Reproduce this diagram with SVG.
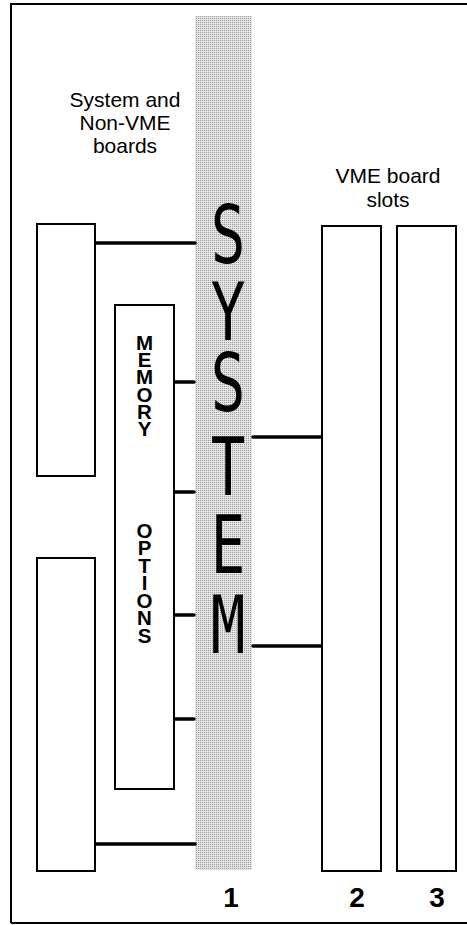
<svg xmlns="http://www.w3.org/2000/svg" width="467" height="925" viewBox="0 0 467 925">
<defs>
<pattern id="dots" width="2" height="2" patternUnits="userSpaceOnUse">
<rect width="2" height="2" fill="#e4e4e4"/>
<rect width="1" height="1" fill="#9a9a9a"/>
</pattern>
<style>
.box{fill:#fff;stroke:#000;stroke-width:2}
.con{stroke:#000;stroke-width:3.5;stroke-linecap:round;fill:none}
.lbl{font-family:"Liberation Sans",Arial,sans-serif;font-size:21px;fill:#000;text-anchor:middle}
.vert{font-family:"Liberation Sans",Arial,sans-serif;font-size:20.5px;font-weight:bold;fill:#000;text-anchor:middle}
.num{font-family:"Liberation Sans",Arial,sans-serif;font-size:28px;font-weight:bold;fill:#000;text-anchor:middle}
.sys{font-family:"DejaVu Sans Mono","Liberation Mono",monospace;font-size:80px;fill:#000;text-anchor:middle}
</style>
</defs>
<rect x="0" y="0" width="467" height="925" fill="#fff"/>
<g id="frame">
<path d="M11,923 L11,4 L470,4 M11,923 L470,923" fill="none" stroke="#000" stroke-width="2"/>
</g>
<g id="system-bus">
<rect x="195" y="16" width="57" height="854" fill="url(#dots)"/>
<g transform="translate(228,0) scale(0.72,1)">
<text class="sys" x="0" y="263">S</text>
<text class="sys" x="0" y="340">Y</text>
<text class="sys" x="0" y="411">S</text>
<text class="sys" x="0" y="495">T</text>
<text class="sys" x="0" y="573">E</text>
<text class="sys" x="0" y="653">M</text>
</g>
</g>
<g id="label-system">
<text class="lbl" x="125" y="107">System and</text>
<text class="lbl" x="125" y="130">Non-VME</text>
<text class="lbl" x="125" y="153">boards</text>
</g>
<g id="label-vme">
<text class="lbl" x="388" y="183">VME board</text>
<text class="lbl" x="388" y="207">slots</text>
</g>
<g id="board-upper">
<rect class="box" x="37" y="224" width="58" height="252"/>
</g>
<g id="board-lower">
<rect class="box" x="37" y="558" width="58" height="313"/>
</g>
<g id="memory-options">
<rect class="box" x="115" y="305" width="59" height="484"/>
<text class="vert" x="144.5" y="350">M</text>
<text class="vert" x="144.5" y="367.2">E</text>
<text class="vert" x="144.5" y="384.4">M</text>
<text class="vert" x="144.5" y="401.6">O</text>
<text class="vert" x="144.5" y="418.8">R</text>
<text class="vert" x="144.5" y="436">Y</text>
<text class="vert" x="144.5" y="537.5">O</text>
<text class="vert" x="144.5" y="555">P</text>
<text class="vert" x="144.5" y="572.5">T</text>
<text class="vert" x="144.5" y="590">I</text>
<text class="vert" x="144.5" y="607.5">O</text>
<text class="vert" x="144.5" y="625">N</text>
<text class="vert" x="144.5" y="642.5">S</text>
</g>
<g id="vme-slot-2">
<rect class="box" x="322" y="226" width="59" height="645"/>
</g>
<g id="vme-slot-3">
<rect class="box" x="397" y="226" width="59" height="645"/>
</g>
<g id="slot-numbers">
<text class="num" x="231" y="907">1</text>
<text class="num" x="357" y="907">2</text>
<text class="num" x="437" y="907">3</text>
</g>
<g id="connectors">
<line class="con" x1="96" y1="243" x2="195" y2="243"/>
<line class="con" x1="96" y1="844" x2="195" y2="844"/>
<line class="con" x1="175" y1="382" x2="194" y2="382"/>
<line class="con" x1="175" y1="492" x2="194" y2="492"/>
<line class="con" x1="175" y1="615" x2="194" y2="615"/>
<line class="con" x1="175" y1="719" x2="194" y2="719"/>
<line class="con" x1="253" y1="437" x2="321" y2="437"/>
<line class="con" x1="253" y1="646" x2="321" y2="646"/>
</g>
</svg>
